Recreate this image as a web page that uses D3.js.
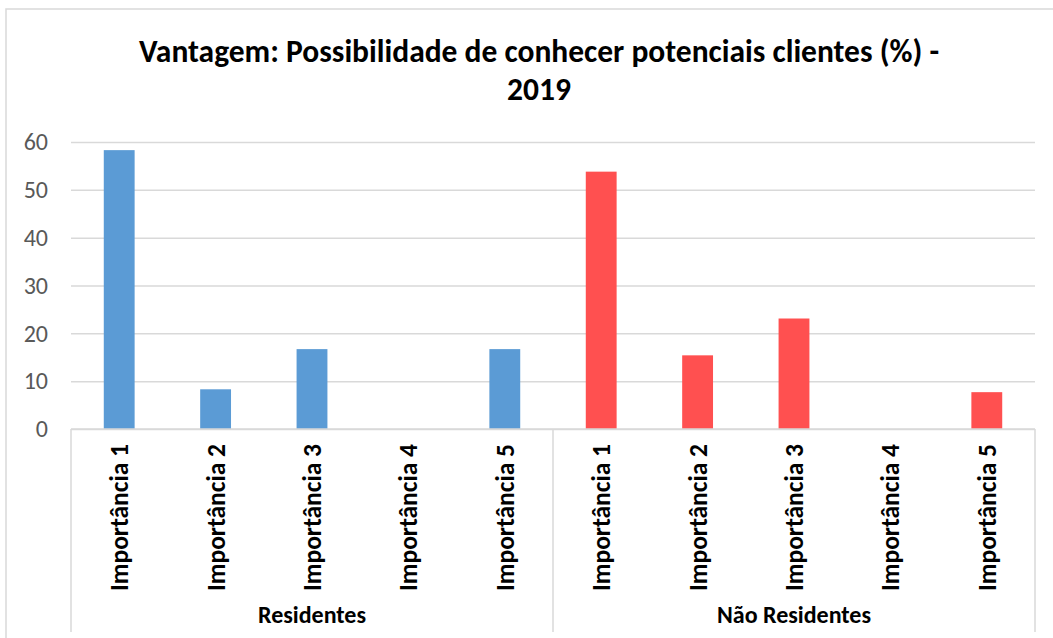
<!doctype html>
<html>
<head>
<meta charset="utf-8">
<title>Vantagem: Possibilidade de conhecer potenciais clientes</title>
<script src="https://cdn.jsdelivr.net/npm/d3@7"></script>
<style>
  body { margin: 0; background: white; }
  svg { display: block; font-family: Carlito, 'Liberation Sans Narrow', 'Open Sans', sans-serif; }
</style>
</head>
<body>
<svg id="chart" width="1053" height="638"></svg>
<script>
var groups = ['Residentes', 'Não Residentes'];
var categories = ['Importância 1', 'Importância 2', 'Importância 3', 'Importância 4', 'Importância 5'];
var residentes = [58.3, 8.3, 16.7, 0, 16.7];
var naoResidentes = [53.8, 15.4, 23.1, 0, 7.7];
var yTicks = [0, 10, 20, 30, 40, 50, 60];
var colors = ['#5B9BD5', '#FF5050'];

var seriesByGroup = [residentes, naoResidentes];

var svg = d3.select('#chart');
var plotLeft = 71, plotRight = 1035, plotTop = 142, plotBottom = 429, axisBottom = 632;

// outer frame
svg.append('rect')
    .attr('x', 6).attr('y', 9)
    .attr('width', 1100).attr('height', 700)
    .attr('fill', 'white')
    .attr('stroke', '#D9D9D9')
    .attr('stroke-width', 1.5);

// title
var title = svg.append('text')
    .attr('text-anchor', 'middle')
    .attr('font-weight', 'bold')
    .attr('font-size', 31.5)
    .attr('fill', '#000');
title.append('tspan').attr('x', 539).attr('y', 62)
    .text('Vantagem: Possibilidade de conhecer potenciais clientes (%) -');
title.append('tspan').attr('x', 539).attr('y', 100).text('2019');

var y = d3.scaleLinear().domain([0, 60]).range([plotBottom, plotTop]);
var x0 = d3.scaleBand().domain(groups).range([plotLeft, plotRight]);
var x1 = d3.scaleBand().domain(categories).range([0, x0.bandwidth()]);
var barWidth = x1.bandwidth() * 0.32;

// gridlines + y labels
var yAxis = svg.append('g')
    .attr('transform', 'translate(' + plotLeft + ',0)')
    .call(d3.axisLeft(y).tickValues(yTicks).tickSize(-(plotRight - plotLeft)).tickPadding(23));
yAxis.attr('font-family', null).attr('font-size', null);
yAxis.select('.domain').remove();
yAxis.selectAll('.tick line').attr('stroke', '#D9D9D9').attr('stroke-width', 1.5);
yAxis.selectAll('.tick text')
    .attr('fill', '#595959')
    .attr('font-size', 24);

// bars
groups.forEach(function (g, gi) {
  svg.append('g')
      .selectAll('rect')
      .data(seriesByGroup[gi])
      .enter().append('rect')
      .attr('x', function (d, i) { return x0(g) + x1(categories[i]) + x1.bandwidth() / 2 - barWidth / 2; })
      .attr('y', function (d) { return y(d); })
      .attr('width', barWidth)
      .attr('height', function (d) { return plotBottom - y(d); })
      .attr('fill', colors[gi]);
});

// category axis box
var axisG = svg.append('g').attr('stroke', '#D9D9D9').attr('stroke-width', 1.5);
axisG.append('line').attr('x1', plotLeft).attr('x2', plotRight).attr('y1', plotBottom).attr('y2', plotBottom);
[plotLeft, x0(groups[1]), plotRight].forEach(function (xx) {
  axisG.append('line').attr('x1', xx).attr('x2', xx).attr('y1', plotBottom).attr('y2', axisBottom);
});

// rotated category labels
groups.forEach(function (g) {
  svg.append('g')
      .selectAll('text')
      .data(categories)
      .enter().append('text')
      .attr('transform', function (d) {
        var cx = x0(g) + x1(d) + x1.bandwidth() / 2 + 9;
        return 'translate(' + cx + ',444)rotate(-90)';
      })
      .attr('text-anchor', 'end')
      .attr('font-weight', 'bold')
      .attr('font-size', 25.5)
      .attr('fill', '#000')
      .text(function (d) { return d; });
});

// group labels
svg.append('g')
    .selectAll('text')
    .data(groups)
    .enter().append('text')
    .attr('x', function (d) { return x0(d) + x0.bandwidth() / 2; })
    .attr('y', 623)
    .attr('text-anchor', 'middle')
    .attr('font-weight', 'bold')
    .attr('font-size', 24)
    .attr('fill', '#000')
    .text(function (d) { return d; });
</script>
</body>
</html>
